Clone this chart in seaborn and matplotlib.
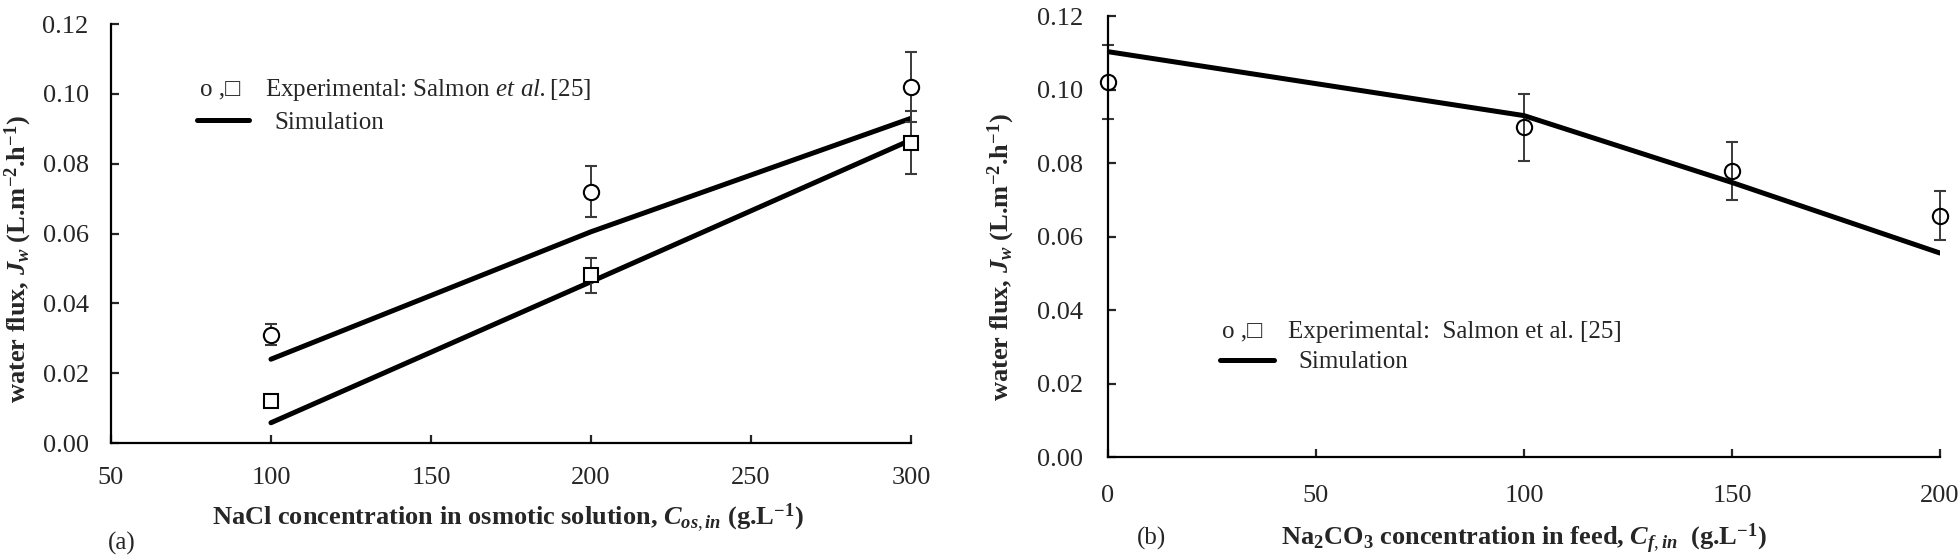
import matplotlib
matplotlib.use("Agg")
import matplotlib.pyplot as plt
import seaborn as sns
import pandas as pd

sns.set_theme(style="white")
plt.rcParams["font.family"] = ["Liberation Serif", "DejaVu Sans"]
plt.rcParams["mathtext.fontset"] = "custom"
plt.rcParams["mathtext.rm"] = "Liberation Serif"
plt.rcParams["mathtext.it"] = "Liberation Serif:italic:bold"
plt.rcParams["mathtext.bf"] = "Liberation Serif:bold"
plt.rcParams["mathtext.sf"] = "Liberation Serif:italic"

# (a) NaCl concentration in osmotic solution
nacl_conc = [100, 200, 300]
circ_a = [0.031, 0.072, 0.102]
circ_a_err = [0.003, 0.0073, 0.010]
sq_a = [0.012, 0.048, 0.086]
sq_a_err = [0.001, 0.005, 0.009]
sim_a_upper = [0.024, 0.0605, 0.093]
sim_a_lower = [0.0058, 0.0462, 0.0868]

# (b) Na2CO3 concentration in feed
na2co3_conc = [0, 100, 150, 200]
circ_b = [0.102, 0.0897, 0.0778, 0.0657]
circ_b_err = [0.010, 0.0092, 0.0079, 0.0066]
sim_b = [0.1103, 0.0929, 0.0747, 0.0555]

yticks = [0.00, 0.02, 0.04, 0.06, 0.08, 0.10, 0.12]
xticks_a = [50, 100, 150, 200, 250, 300]
xticks_b = [0, 50, 100, 150, 200]

TICK_FS = 19
LAB_FS = 19
LEG_FS = 18
ERR_COLOR = "#3a3a3a"

fig = plt.figure(figsize=(19.6, 5.6), dpi=100)
ax_a = fig.add_axes([0.0566, 0.2089, 0.4082, 0.7482])
ax_b = fig.add_axes([0.5653, 0.1839, 0.4245, 0.7875])

df_a = pd.DataFrame({"conc": nacl_conc * 2,
                     "flux": sim_a_upper + sim_a_lower,
                     "set": ["upper"] * 3 + ["lower"] * 3})
sns.lineplot(data=df_a, x="conc", y="flux", units="set", estimator=None,
             color="black", lw=3.6, ax=ax_a, zorder=2)
ax_a.errorbar(nacl_conc, circ_a, yerr=circ_a_err, fmt="o", ms=11, mfc="white",
              mec="black", mew=1.5, ecolor=ERR_COLOR, elinewidth=1.4,
              capsize=4, capthick=1.4, zorder=3, clip_on=False)
ax_a.errorbar(nacl_conc, sq_a, yerr=sq_a_err, fmt="s", ms=10, mfc="white",
              mec="black", mew=1.5, ecolor=ERR_COLOR, elinewidth=1.4,
              capsize=4, capthick=1.4, zorder=3, clip_on=False)

df_b = pd.DataFrame({"conc": na2co3_conc, "flux": sim_b})
sns.lineplot(data=df_b, x="conc", y="flux", color="black", lw=3.6,
             ax=ax_b, zorder=3)
ax_b.errorbar(na2co3_conc, circ_b, yerr=circ_b_err, fmt="o", ms=11, mfc="none",
              mec="black", mew=1.5, ecolor=ERR_COLOR, elinewidth=1.4,
              capsize=4, capthick=1.4, zorder=2, clip_on=False)

ylab = r"water flux, $J_w$ (L.m$^{\mathbf{-2}}$.h$^{\mathbf{-1}}$)"
setups = [
    (ax_a, (50, 300), xticks_a,
     r"NaCl concentration in osmotic solution, $C_{os,in}$ (g.L$^{\mathbf{-1}}$)",
     16, 17, (-0.096, 0.44), (0.496, -0.14)),
    (ax_b, (0, 200), xticks_b,
     r"Na$_{\mathbf{2}}$CO$_{\mathbf{3}}$ concentration in feed, $C_{f,in}$  (g.L$^{\mathbf{-1}}$)",
     18, 20, (-0.109, 0.453), (0.5, -0.147)),
]
for ax, xlim, xt, xlab, ypad, xpad, ylc, xlc in setups:
    ax.set_xlim(*xlim)
    ax.set_ylim(0, 0.12)
    ax.set_xticks(xt)
    ax.set_yticks(yticks)
    ax.set_yticklabels([f"{v:.2f}" for v in yticks])
    ax.set_xticklabels([str(v) for v in xt])
    for s in ["top", "right"]:
        ax.spines[s].set_visible(False)
    for s in ["left", "bottom"]:
        ax.spines[s].set_color("black")
        ax.spines[s].set_linewidth(1.6)
    ax.tick_params(axis="y", direction="in", length=6, width=1.6,
                   pad=ypad, labelsize=TICK_FS, left=True)
    ax.tick_params(axis="x", direction="in", length=6, width=1.6,
                   pad=xpad, labelsize=TICK_FS, bottom=True)
    ax.set_ylabel(ylab, fontsize=LAB_FS, fontweight="bold")
    ax.set_xlabel(xlab, fontsize=LAB_FS, fontweight="bold")
    ax.yaxis.set_label_coords(*ylc)
    ax.xaxis.set_label_coords(*xlc)
    ax.grid(False)

# legends
ax_a.text(0.111, 0.842, "o ,\u25a1", transform=ax_a.transAxes, fontsize=LEG_FS,
          va="center", ha="left")
ax_a.text(0.1925, 0.842, r"Experimental: Salmon $\mathsf{et\ al.}$[25]",
          transform=ax_a.transAxes, fontsize=LEG_FS, va="center", ha="left")
ax_a.legend([ax_a.lines[0]], ["Simulation"], loc="center left",
            bbox_to_anchor=(0.1075, 0.764), frameon=False, fontsize=LEG_FS,
            handlelength=2.1, handletextpad=1.0, borderpad=0, borderaxespad=0)

ax_b.text(0.137, 0.283, "o ,\u25a1", transform=ax_b.transAxes, fontsize=LEG_FS,
          va="center", ha="left")
ax_b.text(0.216, 0.283, "Experimental:  Salmon et al. [25]",
          transform=ax_b.transAxes, fontsize=LEG_FS, va="center", ha="left")
ax_b.legend([ax_b.lines[0]], ["Simulation"], loc="center left",
            bbox_to_anchor=(0.1346, 0.215), frameon=False, fontsize=LEG_FS,
            handlelength=2.15, handletextpad=1.0, borderpad=0, borderaxespad=0)

fig.text(0.055, 0.030, "(a)", fontsize=LEG_FS, ha="left", va="center")
fig.text(0.580, 0.039, "(b)", fontsize=LEG_FS, ha="left", va="center")

fig.savefig("out.png", dpi=100)
